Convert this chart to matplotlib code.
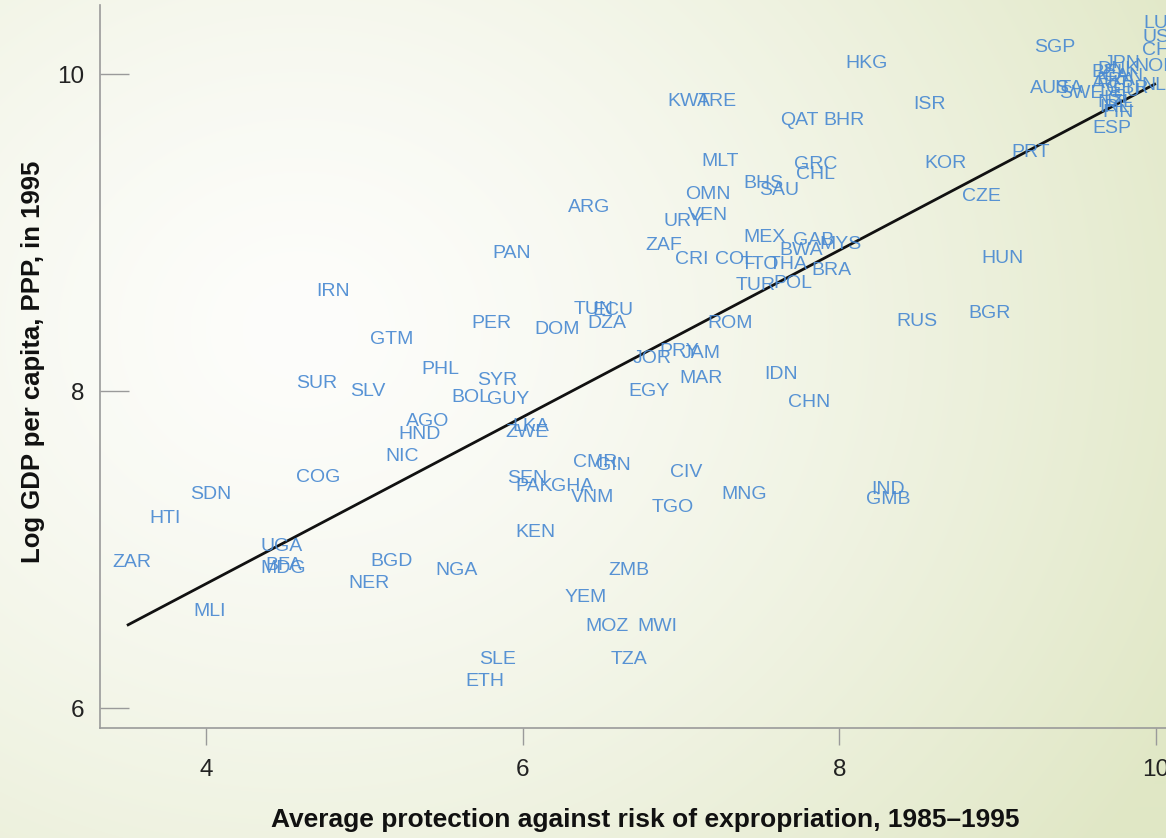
import numpy as np
import matplotlib
matplotlib.use("Agg")
import matplotlib.pyplot as plt

# ---------------- data ----------------
codes = ["LUX", "USA", "CHE", "NOR", "NLD", "SGP", "HKG", "AUS", "ITA", "SWE",
         "JPN", "DNK", "BEL", "CAN", "FRA", "AUT", "GBR", "DEU", "ISL", "NZL",
         "IRL", "FIN", "ESP", "ISR", "KOR", "PRT", "CZE", "HUN", "BGR", "RUS",
         "KWT", "ARE", "QAT", "BHR", "MLT", "GRC", "CHL", "BHS", "SAU", "OMN",
         "VEN", "URY", "ZAF", "MEX", "GAB", "MYS", "BWA", "CRI", "COL", "TTO",
         "THA", "BRA", "TUR", "POL", "ARG", "PAN", "IRN", "TUN", "ECU", "DZA",
         "DOM", "PER", "GTM", "ROM", "JOR", "PRY", "JAM", "MAR", "EGY", "IDN",
         "CHN", "PHL", "SUR", "SLV", "SYR", "BOL", "GUY", "AGO", "HND", "NIC",
         "LKA", "ZWE", "SEN", "PAK", "GHA", "VNM", "CMR", "GIN", "CIV", "TGO",
         "MNG", "IND", "GMB", "KEN", "ZMB", "YEM", "MOZ", "MWI", "SLE", "TZA",
         "ETH", "COG", "SDN", "HTI", "ZAR", "UGA", "BFA", "MDG", "BGD", "NER",
         "NGA", "MLI"]

expropriation = [10.04, 10.04, 10.04, 10.00, 10.03, 9.36, 8.17, 9.33, 9.45, 9.53,
                 9.79, 9.76, 9.71, 9.79, 9.75, 9.72, 9.82, 9.77, 9.76, 9.75,
                 9.74, 9.76, 9.72, 8.57, 8.67, 9.21, 8.90, 9.03, 8.95, 8.49,
                 7.05, 7.23, 7.75, 8.03, 7.25, 7.85, 7.85, 7.52, 7.62, 7.17,
                 7.17, 7.02, 6.89, 7.53, 7.84, 8.01, 7.76, 7.07, 7.34, 7.50,
                 7.68, 7.95, 7.47, 7.71, 6.42, 5.93, 4.80, 6.45, 6.57, 6.53,
                 6.22, 5.80, 5.17, 7.31, 6.82, 6.99, 7.13, 7.13, 6.80, 7.63,
                 7.81, 5.48, 4.70, 5.02, 5.84, 5.67, 5.91, 5.40, 5.35, 5.24,
                 6.05, 6.03, 6.03, 6.07, 6.31, 6.44, 6.46, 6.57, 7.03, 6.95,
                 7.40, 8.31, 8.31, 6.08, 6.67, 6.40, 6.53, 6.85, 5.84, 6.67,
                 5.76, 4.71, 4.03, 3.74, 3.53, 4.48, 4.49, 4.49, 5.17, 5.03,
                 5.58, 4.02]

log_gdp = [10.33, 10.24, 10.16, 10.06, 9.94, 10.18, 10.08, 9.92, 9.92, 9.89,
           10.08, 10.04, 10.02, 10.00, 9.97, 9.95, 9.92, 9.90, 9.86, 9.83,
           9.80, 9.77, 9.67, 9.82, 9.45, 9.52, 9.24, 8.85, 8.50, 8.45,
           9.84, 9.84, 9.72, 9.72, 9.46, 9.44, 9.38, 9.32, 9.28, 9.25,
           9.12, 9.08, 8.93, 8.98, 8.96, 8.94, 8.90, 8.84, 8.84, 8.81,
           8.81, 8.77, 8.68, 8.69, 9.17, 8.88, 8.64, 8.53, 8.52, 8.44,
           8.40, 8.44, 8.34, 8.44, 8.22, 8.26, 8.25, 8.09, 8.01, 8.12,
           7.94, 8.15, 8.06, 8.01, 8.08, 7.97, 7.96, 7.82, 7.74, 7.60,
           7.79, 7.75, 7.46, 7.41, 7.41, 7.34, 7.56, 7.54, 7.50, 7.28,
           7.36, 7.39, 7.33, 7.12, 6.88, 6.71, 6.53, 6.53, 6.32, 6.32,
           6.18, 7.47, 7.36, 7.21, 6.93, 7.03, 6.91, 6.89, 6.94, 6.80,
           6.88, 6.62]

fit_intercept = 4.68
fit_slope = 0.526
fit_range = [3.5, 10.0]

x_ticks = [4, 6, 8, 10]
y_ticks = [6, 8, 10]
x_label = "Average protection against risk of expropriation, 1985\u20131995"
y_label = "Log GDP per capita, PPP, in 1995"

# ---------------- figure ----------------
W, H = 1166, 838
fig = plt.figure(figsize=(W / 100, H / 100), dpi=100)

# background gradient
bg = fig.add_axes([0, 0, 1, 1], zorder=0)
bg.axis("off")
yy, xx = np.mgrid[0:H, 0:W]
d = np.hypot(xx - 300.0, (yy - 330.0) * 1.15)
t = np.clip(d / 1000.0, 0, 1) ** 1.4
c0 = np.array([253, 253, 251]) / 255.0
c1 = np.array([224, 231, 197]) / 255.0
img = c0 + (c1 - c0) * t[..., None]
bg.imshow(img, aspect="auto", extent=[0, 1, 0, 1], interpolation="bilinear")
bg.set_xlim(0, 1)
bg.set_ylim(0, 1)

# main axes: map data to pixels
xmin, xmax = 3.33, 10.3
ymin, ymax = 5.874, 10.435
px_per_x = 158.3
px_per_y = 158.5
left_px = 100
bottom_px = 728
ax_w = (xmax - xmin) * px_per_x
ax_h = (ymax - ymin) * px_per_y
ax = fig.add_axes([left_px / W, (H - bottom_px) / H, ax_w / W, ax_h / H], zorder=1)
ax.patch.set_alpha(0)
ax.set_xlim(xmin, xmax)
ax.set_ylim(ymin, ymax)

for s in ["top", "right"]:
    ax.spines[s].set_visible(False)
for s in ["left", "bottom"]:
    ax.spines[s].set_color("#9a9a9a")
    ax.spines[s].set_linewidth(1.2)

ax.set_xticks(x_ticks)
ax.set_yticks(y_ticks)
ax.set_xticklabels([str(v) for v in x_ticks])
ax.set_yticklabels([str(v) for v in y_ticks])
ax.tick_params(axis="x", direction="out", length=12, width=1, color="#9a9a9a",
               pad=10, labelsize=17.5, labelcolor="#222222")
ax.tick_params(axis="y", direction="in", length=21, width=1, color="#9a9a9a",
               pad=11, labelsize=17.5, labelcolor="#222222")
for lab in ax.get_xticklabels() + ax.get_yticklabels():
    lab.set_family(["Liberation Sans", "DejaVu Sans"])

# regression line
xl = np.array(fit_range)
ax.plot(xl, fit_intercept + fit_slope * xl, color="#111111", lw=2.0, zorder=3,
        solid_capstyle="butt")

# country labels
for c, x, y in zip(codes, expropriation, log_gdp):
    ax.text(x, y, c, ha="center", va="center_baseline", fontsize=14,
            family=["Liberation Sans", "DejaVu Sans"], color="#4a8ad2",
            alpha=0.92, zorder=4, clip_on=False)

fig.text(645 / W, 1 - 820 / H, x_label, ha="center", va="center",
         fontsize=19, fontweight="bold", family=["Liberation Sans", "DejaVu Sans"],
         color="#111111")
fig.text(33 / W, 1 - 362 / H, y_label, ha="center", va="center", rotation=90,
         fontsize=18.5, fontweight="bold", family=["Liberation Sans", "DejaVu Sans"],
         color="#111111")

fig.savefig("out.png", dpi=100)
